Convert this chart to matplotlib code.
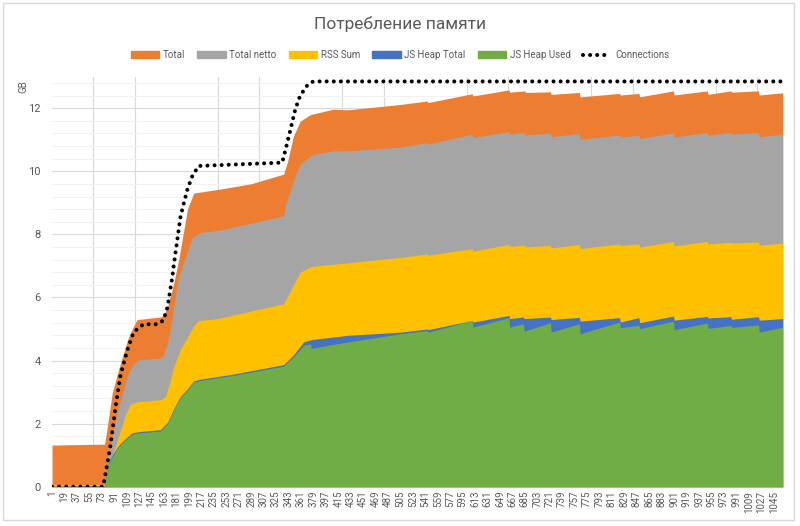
import matplotlib
matplotlib.use('Agg')
import matplotlib.pyplot as plt
from matplotlib.patches import Patch, Rectangle
from matplotlib.lines import Line2D

plt.rcParams['font.family'] = ['Roboto', 'DejaVu Sans']

# --- данные (номер отсчёта -> ГБ) ---
total_x = [1, 77, 81, 88, 97, 110, 117, 124, 158, 162, 168, 177, 184, 197, 206, 245, 288, 336, 342, 350,
           360, 375, 408, 429, 505, 544, 545, 609, 610, 662, 663, 685, 686, 722, 723, 764, 765, 822, 823, 850,
           851, 900, 901, 949, 950, 983, 984, 1023, 1024, 1058]
total_y = [1.32, 1.35, 1.9, 2.96, 3.69, 4.64, 5.0, 5.3, 5.38, 5.43, 5.69, 6.44, 7.17, 8.8, 9.31, 9.44, 9.6, 9.91, 10.33, 11.1,
           11.59, 11.8, 11.97, 11.95, 12.12, 12.23, 12.18, 12.46, 12.39, 12.58, 12.51, 12.55, 12.50, 12.52, 12.44, 12.50, 12.36, 12.47, 12.42, 12.47,
           12.36, 12.55, 12.42, 12.55, 12.44, 12.55, 12.51, 12.55, 12.42, 12.49]

netto_x = [1, 77, 81, 88, 97, 110, 119, 128, 158, 162, 169, 177, 184, 197, 204, 216, 245, 288, 336, 339,
           350, 360, 371, 379, 408, 429, 505, 544, 545, 609, 610, 662, 663, 685, 686, 722, 723, 764, 765, 822,
           823, 850, 851, 900, 901, 949, 950, 983, 984, 1023, 1024, 1058]
netto_y = [0.07, 0.07, 0.9, 1.6, 2.49, 3.53, 3.9, 4.03, 4.08, 4.16, 4.64, 5.69, 6.64, 7.48, 7.91, 8.06, 8.14, 8.35, 8.59, 8.96,
           9.7, 10.23, 10.42, 10.54, 10.65, 10.65, 10.77, 10.91, 10.86, 11.18, 11.07, 11.26, 11.18, 11.23, 11.15, 11.21, 11.10, 11.20, 11.02, 11.15,
           11.09, 11.14, 11.04, 11.22, 11.09, 11.23, 11.15, 11.23, 11.18, 11.23, 11.10, 11.18]

rss_x = [1, 77, 81, 88, 97, 107, 114, 124, 158, 165, 172, 177, 187, 197, 206, 213, 240, 336, 346, 360,
         375, 505, 544, 545, 609, 610, 662, 663, 685, 686, 722, 723, 764, 765, 822, 823, 850, 851, 900, 901,
         949, 950, 983, 984, 1023, 1024, 1058]
rss_y = [0.07, 0.07, 0.43, 0.95, 1.58, 2.27, 2.61, 2.69, 2.76, 2.85, 3.37, 3.8, 4.38, 4.74, 5.11, 5.27, 5.33, 5.8, 6.22, 6.8,
         6.98, 7.27, 7.38, 7.34, 7.55, 7.47, 7.68, 7.62, 7.66, 7.60, 7.65, 7.57, 7.68, 7.55, 7.70, 7.65, 7.70, 7.60, 7.77, 7.63,
         7.78, 7.70, 7.75, 7.73, 7.76, 7.66, 7.72]

heap_total_x = [1, 77, 81, 88, 97, 107, 117, 128, 158, 168, 177, 187, 197, 206, 216, 263, 336, 342, 350, 365,
                375, 429, 505, 544, 545, 609, 610, 662, 663, 683, 684, 722, 723, 764, 765, 822, 823, 850, 851, 900,
                901, 949, 950, 983, 984, 1023, 1024, 1058]
heap_total_y = [0.02, 0.04, 0.68, 1.0, 1.3, 1.52, 1.71, 1.75, 1.81, 2.04, 2.47, 2.87, 3.1, 3.36, 3.41, 3.57, 3.87, 4.0, 4.17, 4.59,
                4.66, 4.8, 4.9, 5.0, 4.98, 5.27, 5.22, 5.43, 5.33, 5.38, 5.33, 5.38, 5.30, 5.37, 5.25, 5.36, 5.22, 5.36, 5.20, 5.41,
                5.28, 5.40, 5.35, 5.39, 5.31, 5.39, 5.28, 5.33]

heap_used_x = [1, 77, 81, 88, 97, 107, 117, 128, 158, 168, 177, 187, 197, 206, 216, 263, 336, 342, 350, 365,
               375, 376, 394, 429, 505, 544, 545, 609, 610, 662, 663, 683, 684, 722, 723, 764, 765, 822, 823, 850,
               851, 900, 901, 949, 950, 983, 984, 1023, 1024, 1058]
heap_used_y = [0.0, 0.02, 0.63, 0.95, 1.26, 1.48, 1.67, 1.71, 1.77, 2.0, 2.43, 2.83, 3.06, 3.32, 3.37, 3.53, 3.82, 3.95, 4.11, 4.48,
               4.53, 4.38, 4.46, 4.59, 4.85, 4.95, 4.90, 5.27, 5.06, 5.36, 5.06, 5.17, 4.93, 5.20, 4.90, 5.17, 4.85, 5.22, 5.04, 5.12,
               5.01, 5.25, 4.98, 5.19, 5.02, 5.11, 5.05, 5.13, 4.90, 5.06]

conn_x = [1, 75, 78, 85, 93, 100, 110, 119, 133, 153, 162, 168, 175, 177, 187, 197, 204, 213, 327, 334,
          339, 346, 353, 360, 371, 379, 1058]
conn_y = [0, 0, 0.37, 1.22, 2.54, 3.53, 4.33, 4.9, 5.15, 5.15, 5.27, 5.69, 6.64, 7.0, 8.58, 9.44, 9.85, 10.17, 10.27, 10.28,
          10.7, 11.33, 11.97, 12.4, 12.75, 12.85, 12.85]

n_points = 1058
label_step = 18

colors = {'Total': '#ED7D31', 'Total netto': '#A5A5A5', 'RSS Sum': '#FFC000',
          'JS Heap Total': '#4472C4', 'JS Heap Used': '#70AD47'}
txt_color = '#595959'

fig = plt.figure(figsize=(8, 5.26), dpi=100)
ax = fig.add_axes([52 / 800, (526 - 486.7) / 526, (782.7 - 52) / 800, (486.7 - 76.7) / 526])

# области рисуются одна поверх другой (не накопительно), как в Excel
ax.fill_between(total_x, 0, total_y, color=colors['Total'], lw=0, zorder=2)
ax.fill_between(netto_x, 0, netto_y, color=colors['Total netto'], lw=0, zorder=3)
ax.fill_between(rss_x, 0, rss_y, color=colors['RSS Sum'], lw=0, zorder=4)
ax.fill_between(heap_total_x, 0, heap_total_y, color=colors['JS Heap Total'], lw=0, zorder=5)
ax.fill_between(heap_used_x, 0, heap_used_y, color=colors['JS Heap Used'], lw=0, zorder=6)

dots = (0, (0.01, 1.75))
ax.plot(conn_x, conn_y, color='black', lw=2.9, linestyle=dots, dash_capstyle='round', zorder=7)

ax.set_xlim(1, n_points)
ax.set_ylim(0, 13)

ax.set_xticks(range(1, n_points + 1, label_step))
ax.set_xticklabels([str(v) for v in range(1, n_points + 1, label_step)], rotation=90, fontsize=7, color=txt_color)
ax.set_xticks(range(1, n_points + 1, 60), minor=True)
ax.set_yticks(range(0, 13, 2))
ax.set_yticklabels([str(v) for v in range(0, 13, 2)], fontsize=8, color=txt_color)
ax.set_yticks([i * 0.4 for i in range(33)], minor=True)
ax.tick_params(axis='both', which='both', length=0)
ax.tick_params(axis='x', pad=3)
ax.tick_params(axis='y', pad=8)

ax.set_axisbelow(True)
ax.grid(axis='y', which='major', color='#d9d9d9', lw=0.8, zorder=0)
ax.grid(axis='y', which='minor', color='#f2f2f2', lw=0.8, zorder=0)
ax.grid(axis='x', which='minor', color='#d9d9d9', lw=0.8, zorder=0)

for s in ['top', 'right', 'left']:
    ax.spines[s].set_visible(False)
ax.spines['bottom'].set_color('#d9d9d9')

fig.text(23 / 800, 1 - 87 / 526, 'GB', rotation=90, fontsize=7, color=txt_color, ha='center', va='center')
fig.text(0.5, 1 - 24 / 526, 'Потребление памяти', fontsize=12.5, color=txt_color,
         ha='center', va='center')

handles = [Patch(color=colors[k]) for k in colors]
handles.append(Line2D([], [], color='black', lw=2.9, linestyle=dots, dash_capstyle='round'))
labels = list(colors.keys()) + ['Connections']
fig.legend(handles, labels, loc='center', bbox_to_anchor=(0.5, 1 - 55 / 526), ncol=6, frameon=False,
           fontsize=7, handlelength=2.9, handleheight=0.6, handletextpad=0.4, columnspacing=1.25,
           labelcolor=txt_color)

# рамка диаграммы
fig.patches.append(Rectangle((3 / 800, 6 / 526), 791 / 800, 517 / 526, transform=fig.transFigure,
                             fill=False, ec='#d9d9d9', lw=1))

fig.savefig('out.png', dpi=100)
